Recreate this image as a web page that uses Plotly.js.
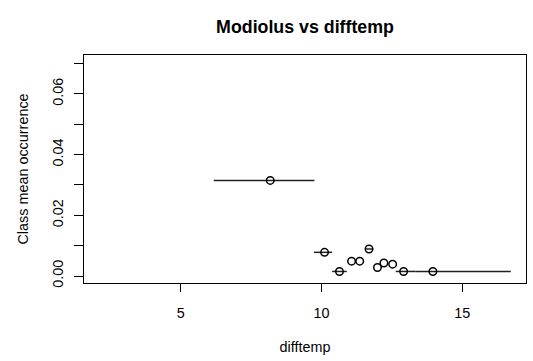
<!DOCTYPE html>
<html>
<head>
<meta charset="utf-8">
<script src="https://cdn.plot.ly/plotly-3.0.1.min.js"></script>
<style>html,body{margin:0;padding:0;background:#fff}#chart{width:533px;height:361px}</style>
</head>
<body>
<div id="chart"></div>
<script>
// class mean difftemp, mean occurrence and horizontal extent of each class
var xMean = [8.18, 10.11, 10.64, 11.07, 11.36, 11.69, 11.99, 12.22, 12.53, 12.92, 13.96];
var yMean = [0.0315, 0.0078, 0.0015, 0.0049, 0.0049, 0.0089, 0.0028, 0.0043, 0.0039, 0.0015, 0.0015];
var xLow  = [6.17, 9.73, 10.38, 11.07, 11.36, 11.56, 11.99, 12.22, 12.53, 12.64, 13.35];
var xHigh = [9.75, 10.38, 10.90, 11.07, 11.36, 11.84, 11.99, 12.22, 12.53, 13.35, 16.73];
var yTicks = [0, 0.01, 0.02, 0.03, 0.04, 0.05, 0.06, 0.07];
var yTickText = ['0.00', '', '0.02', '', '0.04', '', '0.06', ''];
var xTicks = [5, 10, 15];

var plus = xHigh.map(function(h, i){ return h - xMean[i]; });
var minus = xLow.map(function(l, i){ return xMean[i] - l; });

var trace = {
  x: xMean, y: yMean, type: 'scatter', mode: 'markers',
  marker: {symbol: 'circle-open', size: 7.5, color: '#000', line: {width: 1.5, color: '#000'}},
  error_x: {type: 'data', symmetric: false, array: plus, arrayminus: minus,
            width: 0, thickness: 1.5, color: '#222'},
  hoverinfo: 'none'
};

var font = {family: 'Liberation Sans, Arial, sans-serif', size: 14.4, color: '#000'};
var layout = {
  width: 533, height: 361,
  margin: {l: 84, r: 7, t: 55, b: 78, pad: 0},
  paper_bgcolor: '#fff', plot_bgcolor: '#fff',
  showlegend: false,
  font: font,
  title: {text: '<b>Modiolus vs difftemp</b>', x: 0.5, xref: 'paper', xanchor: 'center',
          y: 0.926, yref: 'container', yanchor: 'middle',
          font: {family: 'Liberation Sans, Arial, sans-serif', size: 17.8, color: '#000'}},
  xaxis: {range: [1.56, 17.27], tickvals: xTicks, ticktext: xTicks.map(String),
          ticks: 'outside', ticklen: 8, tickwidth: 1, tickcolor: '#000',
          showline: true, linecolor: '#000', linewidth: 1.2, mirror: true,
          showgrid: false, zeroline: false, ticklabelstandoff: 9,
          title: {text: 'difftemp', font: font, standoff: 21}},
  yaxis: {range: [-0.0023, 0.0728], tickvals: yTicks, ticktext: yTickText,
          ticks: 'outside', ticklen: 9, tickwidth: 1, tickcolor: '#000', tickangle: -90,
          showline: true, linecolor: '#000', linewidth: 1.2, mirror: true,
          showgrid: false, zeroline: false, ticklabelstandoff: 5,
          title: {text: 'Class mean occurrence', font: font, standoff: 18}}
};

Plotly.newPlot('chart', [trace], layout, {staticPlot: true, displayModeBar: false});
</script>
</body>
</html>
